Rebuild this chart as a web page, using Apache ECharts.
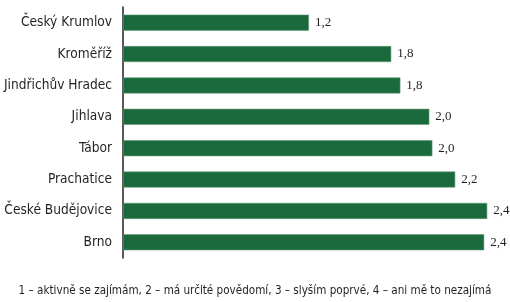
<!DOCTYPE html>
<html>
<head>
<meta charset="utf-8">
<script src="https://cdn.jsdelivr.net/npm/echarts@6/dist/echarts.min.js"></script>
<style>
  html, body { margin: 0; padding: 0; background: #fff; }
  #graf { width: 510px; height: 302px; }
</style>
</head>
<body>
<div id="graf"></div>
<script>
// mesta odshora dolu
var mesta = ['Český Krumlov', 'Kroměříž', 'Jindřichův Hradec', 'Jihlava', 'Tábor', 'Prachatice', 'České Budějovice', 'Brno'];
var hodnoty = [1.22, 1.76, 1.82, 2.01, 2.03, 2.18, 2.39, 2.37];
var poznamka = '1 – aktivně se zajímám, 2 – má určité povědomí, 3 – slyším poprvé, 4 – ani mě to nezajímá';

var pismo = '"DejaVu Sans Condensed", Roboto, sans-serif';
var graf = echarts.init(document.getElementById('graf'));

option = {
    animation: false,
    grid: { left: 123, right: 6, top: 7, height: 251 },
    title: {
        text: poznamka,
        left: 'center',
        top: 280,
        textStyle: { fontFamily: pismo, fontSize: 11.6, fontWeight: 'normal', color: '#231f20' }
    },
    xAxis: {
        type: 'value',
        min: 0,
        max: 2.5,
        show: false
    },
    yAxis: {
        type: 'category',
        inverse: true,
        data: mesta,
        axisLine: { lineStyle: { color: '#231f20', width: 1.5 } },
        axisTick: { show: false },
        axisLabel: { margin: 11, fontFamily: pismo, fontSize: 13.6, color: '#231f20' }
    },
    series: [{
        type: 'bar',
        data: hodnoty,
        barWidth: 16,
        itemStyle: { color: '#1b6a3d', borderColor: '#5e9a74', borderWidth: 0.6 },
        label: {
            show: true,
            position: 'right',
            distance: 6,
            fontFamily: 'Liberation Serif',
            fontSize: 13,
            color: '#231f20',
            formatter: function (p) {
                return p.value.toFixed(1).replace('.', ',');
            }
        }
    }]
};

graf.setOption(option);
</script>
</body>
</html>
